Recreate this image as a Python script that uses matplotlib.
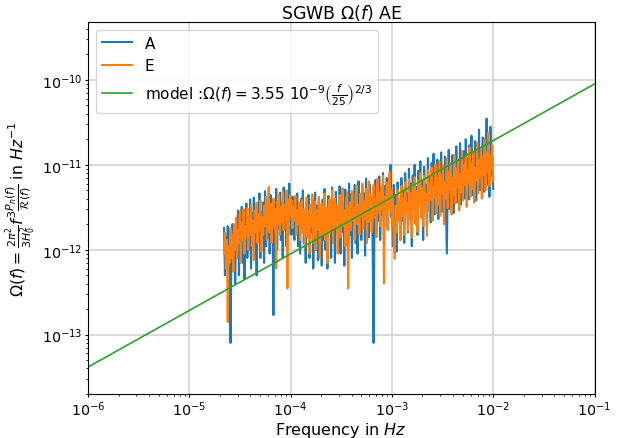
import numpy as np
import matplotlib
matplotlib.use("Agg")
import matplotlib.pyplot as plt

# values, in units of 1e-12
# three frequency bands: 2.2e-5..1e-4, 1e-4..1e-3, 1e-3..1e-2
A_band1 = [1.8, 0.5, 1.4, 0.7, 1.9, 0.45, 1.2, 0.08, 1.0, 2.0, 0.6, 1.6,
           0.4, 2.3, 0.9, 2.9, 0.5, 1.8, 1.1, 3.2, 0.7, 2.5, 0.45, 1.9,
           3.5, 0.8, 2.2, 1.0, 3.9, 0.6, 2.7, 1.2, 4.1, 0.9, 2.4, 0.5,
           3.0, 1.3, 4.6, 0.8, 2.8, 1.5, 3.6, 0.7, 4.9, 1.1, 2.6, 1.4,
           3.9, 0.9, 4.4, 1.2, 2.9, 0.17, 3.4, 1.6, 5.2, 1.0, 3.1, 1.8,
           4.7, 1.3, 3.6, 0.8, 5.4, 1.9, 3.3, 1.1, 4.9, 1.5, 6.0, 2.2]
E_band1 = [0.9, 1.6, 0.6, 1.3, 0.14, 1.1, 0.7, 1.8, 0.8, 1.5, 0.55, 2.0,
           1.0, 2.4, 0.8, 1.7, 1.2, 2.8, 0.7, 2.1, 1.3, 3.0, 0.9, 1.9,
           1.4, 3.1, 1.0, 2.5, 1.5, 3.4, 1.1, 2.2, 0.75, 2.9, 1.6, 3.6,
           1.2, 2.6, 1.7, 3.8, 0.95, 2.4, 1.5, 3.3, 1.9, 4.2, 1.3, 2.8,
           5.5, 1.6, 3.5, 1.2, 2.6, 4.0, 1.8, 3.0, 0.6, 3.7, 2.0, 4.5,
           1.5, 3.2, 2.1, 4.8, 1.7, 3.4, 2.3, 5.0, 0.35, 3.9, 2.2, 4.4]

A_band2 = [3.4, 1.5, 4.2, 2.0, 1.3, 3.7, 2.5, 4.6, 1.1, 3.0, 0.9, 4.0,
           1.8, 5.0, 1.2, 2.6, 0.7, 3.6, 1.4, 4.4, 0.8, 2.9, 1.6, 3.8,
           0.6, 2.3, 4.7, 1.0, 3.3, 0.75, 4.1, 1.9, 2.7, 0.65, 3.9, 1.3,
           5.2, 1.0, 2.8, 0.6, 4.3, 1.7, 3.2, 0.8, 5.4, 1.4, 3.6, 0.7,
           4.8, 2.0, 3.0, 1.1, 5.6, 0.9, 4.0, 1.6, 3.4, 0.65, 5.1, 1.8,
           3.7, 1.0, 6.0, 1.5, 4.5, 0.8, 3.3, 2.1, 5.8, 1.2, 4.1, 0.9,
           6.4, 1.7, 3.8, 1.3, 5.5, 2.3, 4.6, 0.85, 6.9, 1.9, 3.9, 1.4,
           5.9, 2.5, 4.3, 1.1, 0.08, 2.8, 6.6, 1.6, 5.0, 2.2, 7.3, 1.3,
           4.8, 2.6, 8.0, 1.5, 5.6, 2.9, 7.0, 1.8, 6.1, 3.1, 10.0, 2.4]
E_band2 = [2.6, 3.8, 1.8, 3.2, 2.2, 4.3, 1.5, 2.9, 2.0, 3.6, 1.3, 2.7,
           3.9, 1.6, 3.0, 1.1, 2.5, 4.1, 1.4, 2.8, 0.9, 3.4, 1.9, 4.5,
           1.2, 2.6, 3.7, 1.0, 2.9, 1.7, 4.2, 0.8, 2.4, 3.5, 1.5, 2.8,
           4.6, 1.3, 3.1, 0.7, 2.6, 3.9, 1.6, 3.0, 5.0, 1.2, 2.7, 4.0,
           1.8, 3.3, 0.9, 2.5, 4.4, 1.4, 3.2, 5.3, 1.9, 2.9, 1.1, 3.8,
           4.7, 0.35, 2.6, 3.6, 1.7, 4.9, 2.2, 3.1, 1.3, 4.3, 5.6, 2.0,
           3.4, 1.5, 4.6, 2.5, 6.0, 1.8, 3.7, 2.3, 5.2, 1.2, 3.9, 6.4,
           2.1, 4.4, 1.6, 3.5, 5.8, 2.4, 4.1, 1.4, 6.8, 2.8, 4.7, 1.9,
           5.5, 3.0, 7.4, 0.4, 4.2, 2.6, 6.2, 1.7, 4.8, 8.2, 2.9, 5.1]

A_band3 = [3.6, 1.1, 5.8, 2.0, 4.4, 0.95, 6.2, 2.6, 3.5, 1.3, 7.0, 2.2,
           5.0, 1.2, 8.0, 3.0, 4.6, 1.6, 9.0, 2.5, 6.0, 1.1, 7.5, 3.4,
           10.0, 2.0, 5.5, 1.5, 8.5, 3.8, 11.0, 2.4, 6.5, 1.3, 9.5, 4.2,
           5.8, 1.8, 12.0, 3.0, 7.2, 2.1, 10.5, 4.6, 13.5, 2.6, 6.8, 3.6,
           11.5, 2.3, 8.8, 5.0, 14.0, 2.8, 7.5, 4.0, 12.5, 3.3, 0.9, 6.0,
           15.0, 3.0, 9.5, 5.4, 13.0, 2.7, 8.2, 4.5, 16.5, 3.6, 11.0, 6.2,
           18.0, 3.4, 10.0, 5.6, 14.5, 4.0, 20.0, 6.6, 12.0, 3.9, 17.0, 7.2,
           22.0, 4.4, 13.5, 6.0, 19.0, 3.8, 15.5, 7.6, 26.0, 5.0, 12.5, 8.0,
           21.0, 4.8, 17.0, 9.0, 35.0, 5.8, 14.0, 4.2, 28.0, 7.4, 12.0, 5.2]
E_band3 = [2.0, 4.2, 1.2, 0.78, 3.3, 1.6, 5.0, 2.2, 3.8, 1.3, 5.6, 2.5,
           4.0, 1.5, 6.2, 2.8, 3.5, 1.7, 6.8, 2.3, 4.6, 1.4, 5.9, 3.0,
           7.2, 2.0, 4.9, 1.6, 6.5, 3.3, 8.0, 2.4, 5.3, 1.9, 7.4, 3.6,
           4.5, 1.45, 8.6, 2.9, 6.0, 3.9, 9.3, 2.2, 5.4, 4.2, 10.0, 2.7,
           6.9, 3.4, 11.0, 2.5, 7.6, 4.6, 9.7, 2.0, 6.3, 4.0, 12.0, 3.1,
           8.2, 5.0, 10.5, 2.6, 7.0, 4.4, 13.0, 3.5, 9.0, 5.4, 11.5, 2.9,
           7.8, 4.8, 14.5, 3.8, 9.8, 5.8, 12.5, 3.2, 8.5, 6.2, 16.0, 4.2,
           10.5, 5.2, 13.8, 3.6, 9.2, 6.6, 18.0, 4.6, 11.5, 7.0, 15.0, 4.0,
           12.5, 7.6, 20.0, 5.0, 14.0, 8.2, 24.0, 5.6, 13.0, 9.0, 17.0, 6.5]

band_edges = [(2.2e-5, 9.9e-5), (1.0e-4, 9.9e-4), (1.0e-3, 1.0e-2)]

# model parameters
omega0 = 3.55e-9
f_ref = 25.0
slope = 2.0 / 3.0

# frequency grid of each band
counts = [len(A_band1), len(A_band2), len(A_band3)]
freqs = np.concatenate([np.geomspace(lo, hi, n) for (lo, hi), n in zip(band_edges, counts)])
omega_A = np.array(A_band1 + A_band2 + A_band3) * 1e-12
omega_E = np.array(E_band1 + E_band2 + E_band3) * 1e-12

f_model = np.geomspace(1e-6, 1e-1, 200)
omega_model = omega0 * (f_model / f_ref) ** slope

fig = plt.figure(figsize=(6.27, 4.39), dpi=100)
ax = fig.add_axes([0.1404, 0.1002, 0.8078, 0.8474])

ax.loglog(freqs, omega_A, color="tab:blue", lw=1.5, label="A")
ax.loglog(freqs, omega_E, color="tab:orange", lw=1.5, label="E")
ax.loglog(f_model, omega_model, color="tab:green", lw=1.2,
          label=r"model :$\Omega(f) = 3.55\ 10^{-9}\left(\frac{f}{25}\right)^{2/3}$")

ax.set_xlim(1e-6, 1e-1)
ax.set_ylim(2.0e-14, 4.8e-10)
ax.grid(True, which="major", color="#d3d3d3", lw=1.2)
ax.tick_params(which="major", labelsize=10.3, length=2.5, pad=1.5)
ax.tick_params(which="minor", length=1.5)

ax.set_title(r"SGWB $\Omega(f)$ AE", fontsize=12.5, pad=2)
ax.set_xlabel(r"Frequency in $Hz$", fontsize=11.5, labelpad=1.5)
ax.set_ylabel(r"$\Omega(f) = \frac{2\pi^2}{3H_0^2} f^3 \frac{P_n(f)}{\mathcal{R}(f)}$ in $Hz^{-1}$",
              fontsize=11.3, labelpad=3)
ax.legend(loc="upper left", fontsize=11)

fig.savefig("out.png", dpi=100)
